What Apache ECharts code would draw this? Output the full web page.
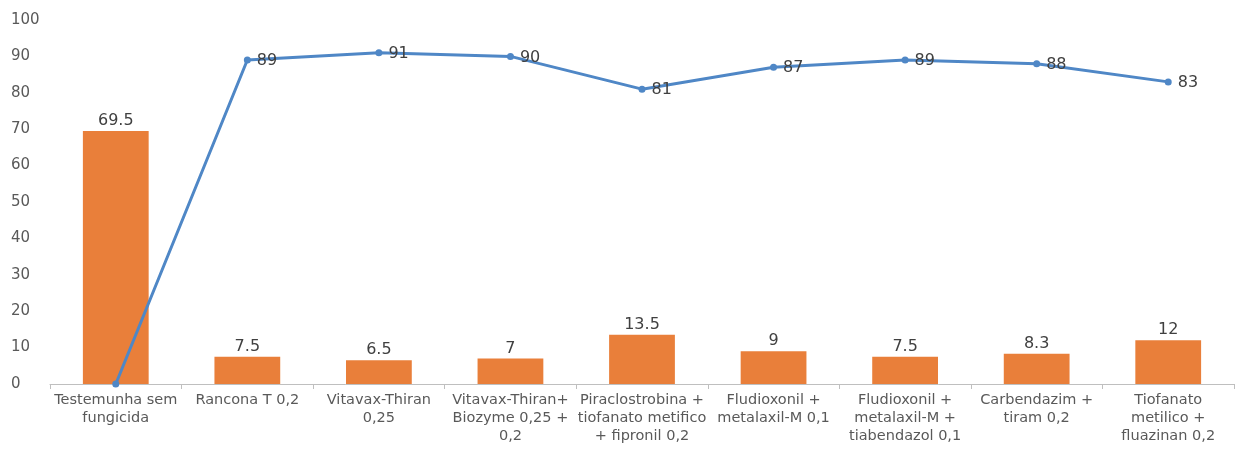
<!DOCTYPE html>
<html><head><meta charset="utf-8">
<script src="https://cdn.jsdelivr.net/npm/echarts@6/dist/echarts.min.js"></script>
<style>html,body{margin:0;padding:0;background:#fff}#c{width:1237px;height:454px}</style>
</head><body><div id="c"></div>
<script>
const categories = [
  "Testemunha sem\nfungicida",
  "Rancona T 0,2",
  "Vitavax-Thiran\n0,25",
  "Vitavax-Thiran+\nBiozyme 0,25 +\n0,2",
  "Piraclostrobina +\ntiofanato metifico\n+ fipronil 0,2",
  "Fludioxonil +\nmetalaxil-M 0,1",
  "Fludioxonil +\nmetalaxil-M +\ntiabendazol 0,1",
  "Carbendazim +\ntiram 0,2",
  "Tiofanato\nmetilico +\nfluazinan 0,2"
];
const barValues = [69.5, 7.5, 6.5, 7, 13.5, 9, 7.5, 8.3, 12];
const lineValues = [0, 89, 91, 90, 81, 87, 89, 88, 83];
const yTicks = { min: 0, max: 100, interval: 10 };

const chart = echarts.init(document.getElementById('c'));
const font = 'DejaVu Sans';
chart.setOption({
  animation: false,
  grid: { left: 50, right: 3, top: 20, bottom: 70, containLabel: false },
  xAxis: {
    type: 'category', data: categories,
    axisLine: { lineStyle: { color: '#bfbfbf', width: 1 } },
    axisTick: { show: true, alignWithLabel: false, lineStyle: { color: '#bfbfbf' }, length: 5 },
    axisLabel: { color: '#595959', fontFamily: font, fontSize: 14.5, lineHeight: 18, margin: 7, interval: 0, hideOverlap: false }
  },
  yAxis: {
    type: 'value', min: yTicks.min, max: yTicks.max, interval: yTicks.interval,
    axisLine: { show: false }, axisTick: { show: false },
    splitLine: { show: false },
    axisLabel: { color: '#595959', fontFamily: font, fontSize: 15, align: 'left', margin: 39 }
  },
  series: [
    {
      type: 'bar', data: barValues, barWidth: '50%',
      itemStyle: { color: '#E97F3A' },
      label: { show: true, position: 'top', color: '#404040', fontFamily: font, fontSize: 16, distance: 2 }
    },
    {
      type: 'line', data: lineValues,
      lineStyle: { color: '#4F87C6', width: 3 },
      itemStyle: { color: '#4F87C6' },
      symbol: 'circle', symbolSize: 7,
      label: { show: true, position: 'right', color: '#404040', fontFamily: font, fontSize: 16, distance: 6, offset: [0, 1],
        formatter: p => (p.value === 0 ? '' : String(p.value)) }
    }
  ]
});
</script>
</body></html>
